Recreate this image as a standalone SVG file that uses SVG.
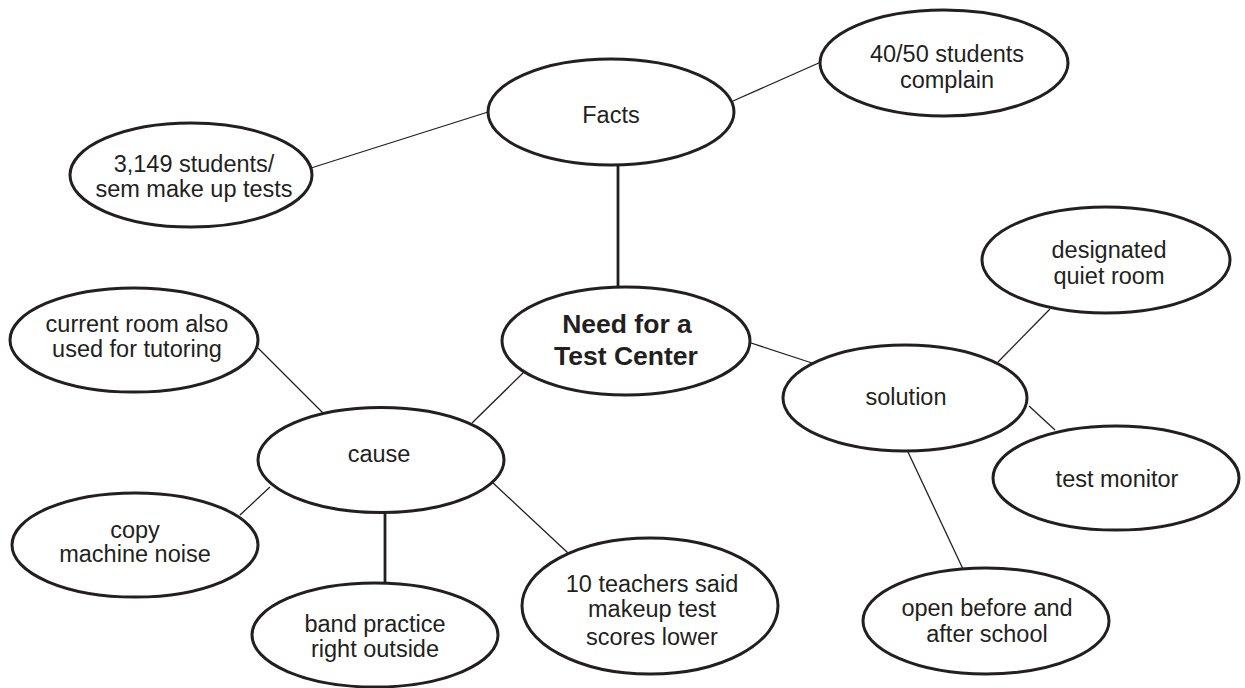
<svg xmlns="http://www.w3.org/2000/svg" width="1245" height="688" viewBox="0 0 1245 688">
<style>
.n{fill:#fff;stroke:#231f20;stroke-width:3}
.t{font-family:"Liberation Sans",Arial,sans-serif;font-size:23.5px;fill:#231f20;text-anchor:middle}
.b{font-weight:bold;font-size:26.5px}
.l{stroke:#231f20;stroke-width:1.3;fill:none}
.k{stroke:#231f20;stroke-width:2.8;fill:none}
</style>
<rect width="1245" height="688" fill="#fff"/>
<g id="connectors">
<line class="k" x1="618" y1="164" x2="618" y2="289"/>
<line class="l" x1="488" y1="112" x2="311" y2="168"/>
<line class="l" x1="733" y1="101" x2="821" y2="62"/>
<line class="l" x1="748" y1="342" x2="812" y2="363"/>
<line class="l" x1="998" y1="362" x2="1050" y2="309"/>
<line class="l" x1="1029" y1="406" x2="1055" y2="430"/>
<line class="l" x1="908" y1="452" x2="963" y2="569"/>
<line class="l" x1="524" y1="372" x2="472" y2="423"/>
<line class="l" x1="258" y1="348" x2="323" y2="413"/>
<line class="l" x1="270" y1="487" x2="240" y2="515"/>
<line class="k" x1="385" y1="512" x2="385" y2="584"/>
<line class="l" x1="492" y1="482" x2="568" y2="553"/>
</g>
<g id="facts"><ellipse class="n" cx="611" cy="112" rx="123" ry="53"/><text class="t" x="611" y="123">Facts</text></g>
<g id="complain"><ellipse class="n" cx="944" cy="63" rx="124" ry="53"/><text class="t" x="947" y="62">40/50 students</text><text class="t" x="947" y="88">complain</text></g>
<g id="makeup"><ellipse class="n" cx="191" cy="175" rx="121" ry="52"/><text class="t" x="194" y="172">3,149 students/</text><text class="t" x="194" y="197">sem make up tests</text></g>
<g id="need"><ellipse class="n" cx="626" cy="341" rx="124" ry="54"/><text class="t b" x="627" y="333">Need for a</text><text class="t b" x="626" y="365">Test Center</text></g>
<g id="quiet"><ellipse class="n" cx="1106" cy="260" rx="124" ry="53"/><text class="t" x="1109" y="258">designated</text><text class="t" x="1109" y="284">quiet room</text></g>
<g id="solution"><ellipse class="n" cx="905" cy="398" rx="122" ry="53"/><text class="t" x="906" y="405">solution</text></g>
<g id="monitor"><ellipse class="n" cx="1116" cy="478" rx="123" ry="52"/><text class="t" x="1117" y="487">test monitor</text></g>
<g id="open"><ellipse class="n" cx="986" cy="621" rx="123" ry="53"/><text class="t" x="987" y="616">open before and</text><text class="t" x="987" y="642">after school</text></g>
<g id="tutoring"><ellipse class="n" cx="134" cy="340" rx="124" ry="52"/><text class="t" x="137" y="332">current room also</text><text class="t" x="137" y="357">used for tutoring</text></g>
<g id="cause"><ellipse class="n" cx="381" cy="460" rx="123" ry="52.5"/><text class="t" x="379" y="462">cause</text></g>
<g id="copy"><ellipse class="n" cx="135" cy="545" rx="123" ry="52"/><text class="t" x="135" y="538">copy</text><text class="t" x="135" y="562">machine noise</text></g>
<g id="band"><ellipse class="n" cx="375" cy="635" rx="123" ry="52"/><text class="t" x="375" y="632">band practice</text><text class="t" x="375" y="657">right outside</text></g>
<g id="teachers"><ellipse class="n" cx="650" cy="606" rx="128" ry="68"/><text class="t" x="652" y="592">10 teachers said</text><text class="t" x="652" y="617">makeup test</text><text class="t" x="652" y="645">scores lower</text></g>
</svg>
